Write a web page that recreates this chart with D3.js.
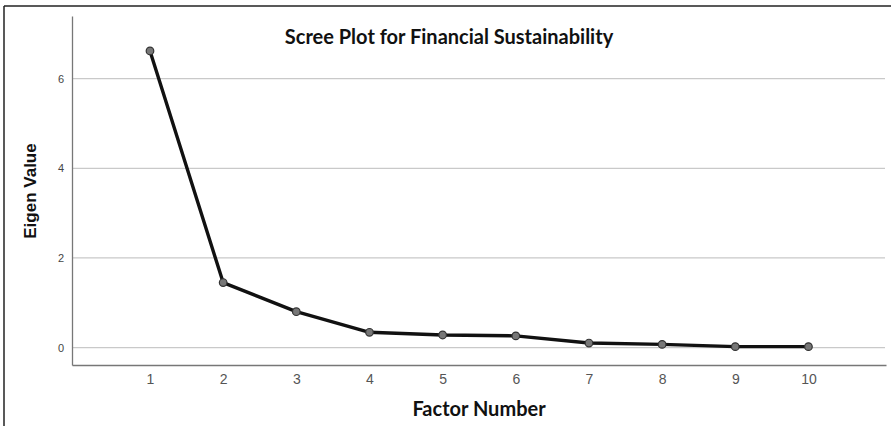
<!DOCTYPE html>
<html>
<head>
<meta charset="utf-8">
<script src="https://cdn.jsdelivr.net/npm/d3@7"></script>
<style>
  body { margin: 0; background: #fff; }
  svg { display: block; }
</style>
</head>
<body>
<svg id="chart" width="891" height="426"></svg>
<script>
// scree plot values
const factors = [1, 2, 3, 4, 5, 6, 7, 8, 9, 10];
const eigenValues = [6.62, 1.45, 0.80, 0.34, 0.28, 0.26, 0.10, 0.07, 0.02, 0.02];
const yTicks = [0, 2, 4, 6];
const titleText = "Scree Plot for Financial Sustainability";
const xLabel = "Factor Number";
const yLabel = "Eigen Value";

const svg = d3.select("#chart");

// frame lines (top and left only)
svg.append("line").attr("x1", 4).attr("x2", 891).attr("y1", 6).attr("y2", 6)
    .attr("stroke", "#222").attr("stroke-width", 1.5);
svg.append("line").attr("x1", 4).attr("x2", 4).attr("y1", 6).attr("y2", 426)
    .attr("stroke", "#222").attr("stroke-width", 1.5);

const x = d3.scaleLinear().domain([-0.066, 11.06]).range([72, 886]);
const y = d3.scaleLinear().domain([-0.39, 7.4]).range([365, 16]);

// gridlines
svg.append("g").selectAll("line").data(yTicks).join("line")
    .attr("x1", 72).attr("x2", 885)
    .attr("y1", d => y(d)).attr("y2", d => y(d))
    .attr("stroke", "#c9c9c9").attr("stroke-width", 1.2);

// y axis
const yAxis = svg.append("g").attr("transform", "translate(72,0)")
    .call(d3.axisLeft(y).tickValues(yTicks).tickSize(0).tickPadding(8));
yAxis.select(".domain").attr("stroke", "#777").attr("stroke-width", 1.3);
yAxis.selectAll("text").attr("fill", "#444")
    .style("font-family", "'Liberation Sans', Arial, sans-serif").style("font-size", "11px");

// x axis
const xAxis = svg.append("g").attr("transform", "translate(0,365)")
    .call(d3.axisBottom(x).tickValues(factors).tickSize(0).tickPadding(9));
xAxis.select(".domain").attr("stroke", "#777").attr("stroke-width", 1.3);
xAxis.selectAll("text").attr("fill", "#555")
    .style("font-family", "'Liberation Sans', Arial, sans-serif").style("font-size", "14px");

// line + points
const pts = factors.map((f, i) => ({f: f, v: eigenValues[i]}));
svg.append("path").datum(pts)
    .attr("fill", "none").attr("stroke", "#111").attr("stroke-width", 3.4)
    .attr("stroke-linejoin", "round")
    .attr("d", d3.line().x(d => x(d.f)).y(d => y(d.v)));
svg.append("g").selectAll("circle").data(pts).join("circle")
    .attr("cx", d => x(d.f)).attr("cy", d => y(d.v)).attr("r", 3.8)
    .attr("fill", "#777").attr("stroke", "#333").attr("stroke-width", 1.2);

// title and labels
svg.append("text").attr("x", 449).attr("y", 44).attr("text-anchor", "middle")
    .style("font-family", "Lato, sans-serif").style("font-weight", "bold").style("font-size", "20px")
    .attr("fill", "#111").text(titleText);
svg.append("text").attr("x", 479).attr("y", 416).attr("text-anchor", "middle")
    .style("font-family", "Lato, sans-serif").style("font-weight", "bold").style("font-size", "20px")
    .attr("fill", "#111").text(xLabel);
svg.append("text").attr("transform", "translate(36,191) rotate(-90)").attr("text-anchor", "middle")
    .style("font-family", "'Liberation Sans', Arial, sans-serif").style("font-weight", "bold").style("font-size", "17px")
    .attr("fill", "#111").text(yLabel);
</script>
</body>
</html>
